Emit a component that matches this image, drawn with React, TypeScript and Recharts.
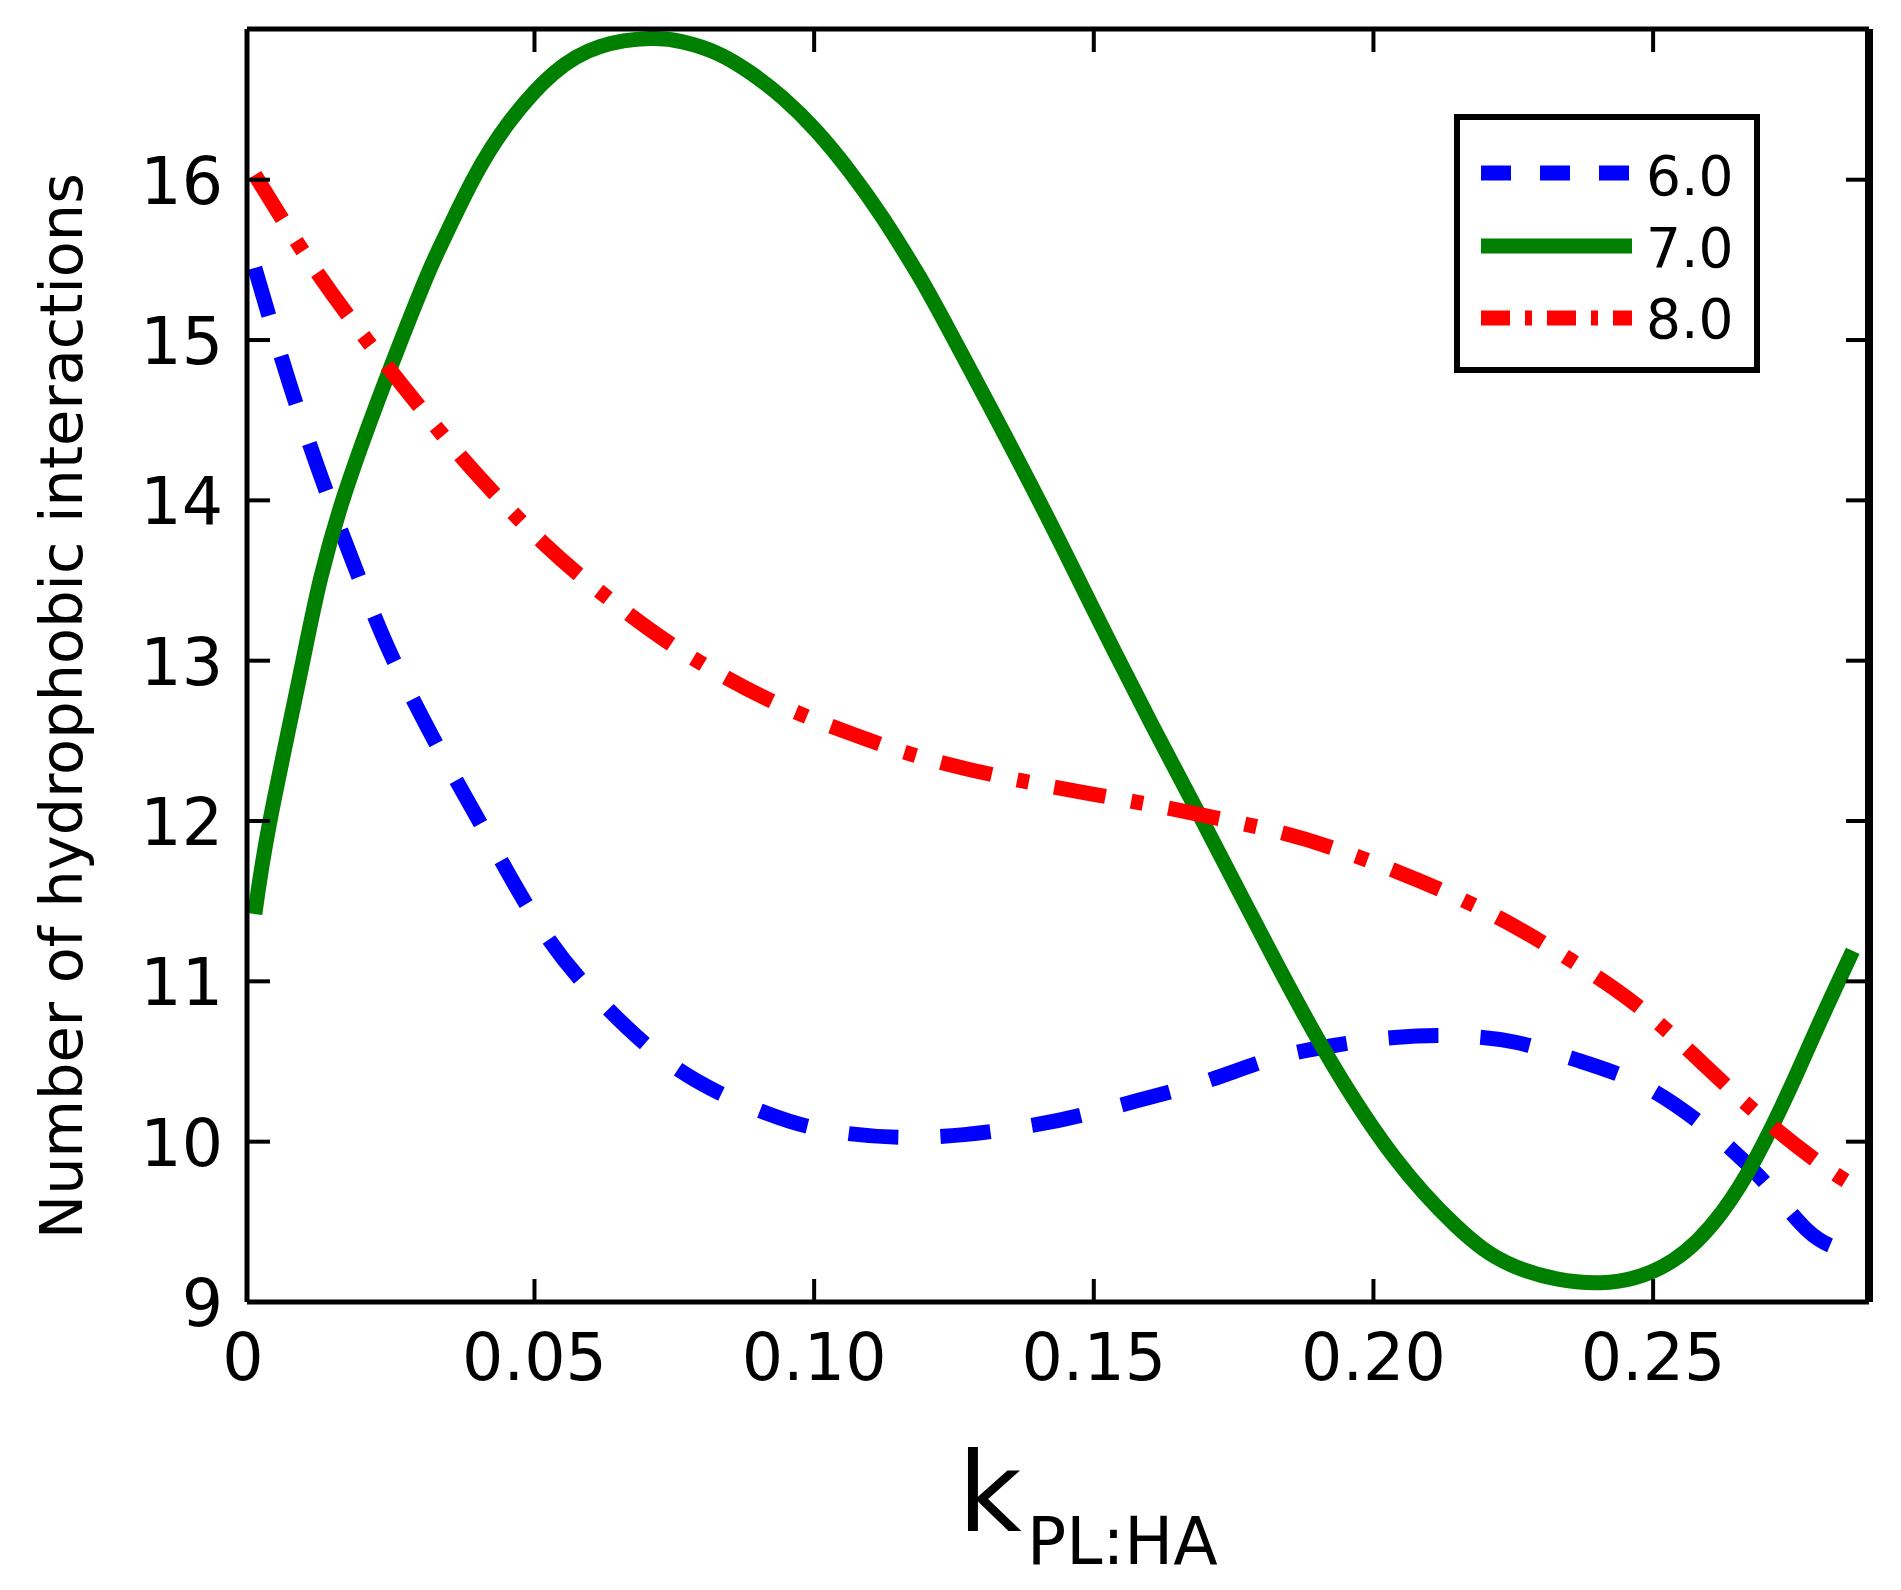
import { LineChart, Line, XAxis, YAxis, Legend, Label } from 'recharts';

// pH series: k = k_PL:HA, n = number of hydrophobic interactions
const pH6 = [
  { k: 0, n: 15.45 }, { k: 0.0093, n: 14.4 }, { k: 0.0202, n: 13.38 }, { k: 0.0268, n: 12.86 },
  { k: 0.034, n: 12.38 }, { k: 0.0417, n: 11.9 }, { k: 0.052, n: 11.29 }, { k: 0.0628, n: 10.84 },
  { k: 0.0737, n: 10.5 }, { k: 0.0845, n: 10.28 }, { k: 0.0954, n: 10.13 }, { k: 0.1062, n: 10.05 },
  { k: 0.1214, n: 10.03 }, { k: 0.1387, n: 10.1 }, { k: 0.1495, n: 10.18 }, { k: 0.1604, n: 10.28 },
  { k: 0.1712, n: 10.39 }, { k: 0.1821, n: 10.52 }, { k: 0.1929, n: 10.6 }, { k: 0.2038, n: 10.65 },
  { k: 0.2146, n: 10.66 }, { k: 0.2254, n: 10.62 }, { k: 0.2363, n: 10.51 }, { k: 0.2471, n: 10.37 },
  { k: 0.2579, n: 10.13 }, { k: 0.2688, n: 9.79 }, { k: 0.2775, n: 9.45 }, { k: 0.2835, n: 9.33 },
];

const pH7 = [
  { k: 0, n: 11.42 }, { k: 0.0027, n: 12.0 }, { k: 0.0086, n: 13.0 }, { k: 0.0157, n: 14.0 },
  { k: 0.0281, n: 15.17 }, { k: 0.0327, n: 15.55 }, { k: 0.039, n: 16.0 }, { k: 0.0455, n: 16.36 },
  { k: 0.0533, n: 16.66 }, { k: 0.0617, n: 16.83 }, { k: 0.0706, n: 16.88 }, { k: 0.0765, n: 16.86 },
  { k: 0.0826, n: 16.79 }, { k: 0.0885, n: 16.67 }, { k: 0.0944, n: 16.51 }, { k: 0.1005, n: 16.3 },
  { k: 0.1064, n: 16.05 }, { k: 0.1123, n: 15.76 }, { k: 0.1184, n: 15.42 }, { k: 0.1243, n: 15.05 },
  { k: 0.1387, n: 14.1 }, { k: 0.1495, n: 13.35 }, { k: 0.1604, n: 12.6 }, { k: 0.169, n: 12.03 },
  { k: 0.1821, n: 11.15 }, { k: 0.1929, n: 10.47 }, { k: 0.2038, n: 9.9 }, { k: 0.2146, n: 9.48 },
  { k: 0.2254, n: 9.22 }, { k: 0.2406, n: 9.12 }, { k: 0.2536, n: 9.26 }, { k: 0.2623, n: 9.56 },
  { k: 0.2684, n: 9.9 }, { k: 0.2742, n: 10.31 }, { k: 0.2796, n: 10.73 }, { k: 0.2857, n: 11.19 },
];

const pH8 = [
  { k: 0, n: 16.03 }, { k: 0.01, n: 15.48 }, { k: 0.02, n: 15.0 }, { k: 0.03, n: 14.56 },
  { k: 0.04, n: 14.15 }, { k: 0.052, n: 13.72 }, { k: 0.0628, n: 13.4 }, { k: 0.0737, n: 13.12 },
  { k: 0.0845, n: 12.89 }, { k: 0.0954, n: 12.7 }, { k: 0.1062, n: 12.55 }, { k: 0.117, n: 12.42 },
  { k: 0.1279, n: 12.32 }, { k: 0.1387, n: 12.24 }, { k: 0.1495, n: 12.17 }, { k: 0.1604, n: 12.1 },
  { k: 0.169, n: 12.04 }, { k: 0.1821, n: 11.94 }, { k: 0.1929, n: 11.83 }, { k: 0.2038, n: 11.69 },
  { k: 0.2146, n: 11.53 }, { k: 0.2254, n: 11.34 }, { k: 0.2363, n: 11.11 }, { k: 0.2471, n: 10.85 },
  { k: 0.2579, n: 10.52 }, { k: 0.2688, n: 10.17 }, { k: 0.2796, n: 9.87 }, { k: 0.2857, n: 9.73 },
];

const xTicks = [0, 0.05, 0.1, 0.15, 0.2, 0.25];
const yTicks = [9, 10, 11, 12, 13, 14, 15, 16];

const series = [
  { name: '6.0', data: pH6, color: '#0000ff', dash: '50 42', legendDash: '30 29' },
  { name: '7.0', data: pH7, color: '#008000', dash: undefined, legendDash: undefined },
  { name: '8.0', data: pH8, color: '#ff0000', dash: '52 26 12 26', legendDash: '29 15 7 15' },
];

const FONT = '"DejaVu Sans", sans-serif';
const TICK_LEN = 23;

const fmtX = (v: number) => (v === 0 ? '0' : v.toFixed(2));

const BottomTick = ({ x, y, payload }: any) => (
  <g>
    {payload.value > 0 && (
      <line x1={x} x2={x} y1={y} y2={y - TICK_LEN} stroke="#000" strokeWidth={4} />
    )}
    <text
      x={payload.value === 0 ? x - 12 : x}
      y={y + 78}
      textAnchor="middle"
      fontSize={65}
      fontFamily={FONT}
      fill="#000"
    >
      {fmtX(payload.value)}
    </text>
  </g>
);

const TopTick = ({ x, y, payload }: any) =>
  payload.value > 0 ? (
    <line x1={x} x2={x} y1={y} y2={y + TICK_LEN} stroke="#000" strokeWidth={4} />
  ) : (
    <g />
  );

const LeftTick = ({ x, y, payload }: any) => (
  <g>
    {payload.value > 9 && (
      <line x1={x} x2={x + TICK_LEN} y1={y} y2={y} stroke="#000" strokeWidth={4} />
    )}
    <text x={x - 24} y={y + 24} textAnchor="end" fontSize={65} fontFamily={FONT} fill="#000">
      {payload.value}
    </text>
  </g>
);

const RightTick = ({ x, y, payload }: any) =>
  payload.value > 9 ? (
    <line x1={x} x2={x - TICK_LEN} y1={y} y2={y} stroke="#000" strokeWidth={4} />
  ) : (
    <g />
  );

const renderLegend = (props: any) => {
  const rows = [63, 136, 208];
  const base = [85, 157, 228];
  return (
    <svg width={320} height={270} style={{ display: 'block' }}>
      <rect x={7} y={7} width={300} height={253} fill="#fff" stroke="#000" strokeWidth={6} />
      {(props.payload || []).map((entry: any, i: number) => {
        const s = series.find((d) => d.name === entry.value) || series[i];
        return (
          <g key={entry.value}>
            <line
              x1={31}
              x2={182}
              y1={rows[i]}
              y2={rows[i]}
              stroke={entry.color}
              strokeWidth={15}
              strokeDasharray={s.legendDash}
            />
            <text x={196} y={base[i]} fontSize={55} fontFamily={FONT} fill="#000">
              {entry.value}
            </text>
          </g>
        );
      })}
    </svg>
  );
};

const XTitle = () => (
  <text fontFamily={FONT} fill="#000">
    <tspan x={958} y={1531} fontSize={110}>k</tspan>
    <tspan x={1027} y={1564} fontSize={65}>PL:HA</tspan>
  </text>
);

const YTitle = () => (
  <text
    transform="translate(82,706) rotate(-90)"
    textAnchor="middle"
    fontSize={59}
    fontFamily={FONT}
    fill="#000"
  >
    Number of hydrophobic interactions
  </text>
);

export default function App() {
  return (
    <div style={{ position: 'absolute', left: 0, top: 0, background: '#fff' }}>
      <LineChart width={1901} height={1590} margin={{ top: 0, right: 0, bottom: 0, left: 0 }}>
        <XAxis
          dataKey="k"
          type="number"
          domain={[-0.0014, 0.2886]}
          allowDataOverflow
          ticks={xTicks}
          interval={0}
          height={288}
          tickSize={0}
          tickMargin={0}
          tickLine={false}
          axisLine={{ stroke: '#000', strokeWidth: 5 }}
          tick={<BottomTick />}
        >
          <Label content={<XTitle />} />
        </XAxis>
        <XAxis
          xAxisId="top"
          orientation="top"
          dataKey="k"
          type="number"
          domain={[-0.0014, 0.2886]}
          allowDataOverflow
          ticks={xTicks}
          interval={0}
          height={29}
          tickSize={0}
          tickMargin={0}
          tickLine={false}
          axisLine={{ stroke: '#000', strokeWidth: 5 }}
          tick={<TopTick />}
        />
        <YAxis
          type="number"
          domain={[9, 16.94]}
          allowDataOverflow
          ticks={yTicks}
          interval={0}
          width={247}
          tickSize={0}
          tickMargin={0}
          tickLine={false}
          axisLine={{ stroke: '#000', strokeWidth: 5 }}
          tick={<LeftTick />}
        >
          <Label content={<YTitle />} />
        </YAxis>
        <YAxis
          yAxisId="right"
          orientation="right"
          type="number"
          domain={[9, 16.94]}
          allowDataOverflow
          ticks={yTicks}
          interval={0}
          width={32}
          tickSize={0}
          tickMargin={0}
          tickLine={false}
          axisLine={{ stroke: '#000', strokeWidth: 8 }}
          tick={<RightTick />}
        />
        {series.map((s) => (
          <Line
            key={s.name}
            name={s.name}
            data={s.data}
            dataKey="n"
            type="natural"
            stroke={s.color}
            strokeWidth={15}
            strokeDasharray={s.dash}
            dot={false}
            activeDot={false}
            isAnimationActive={false}
          />
        ))}
        <Legend
          layout="horizontal"
          verticalAlign="middle"
          align="center"
          content={renderLegend}
          wrapperStyle={{ position: 'absolute', left: 1450, top: 110, width: 320, height: 270 }}
        />
      </LineChart>
    </div>
  );
}
